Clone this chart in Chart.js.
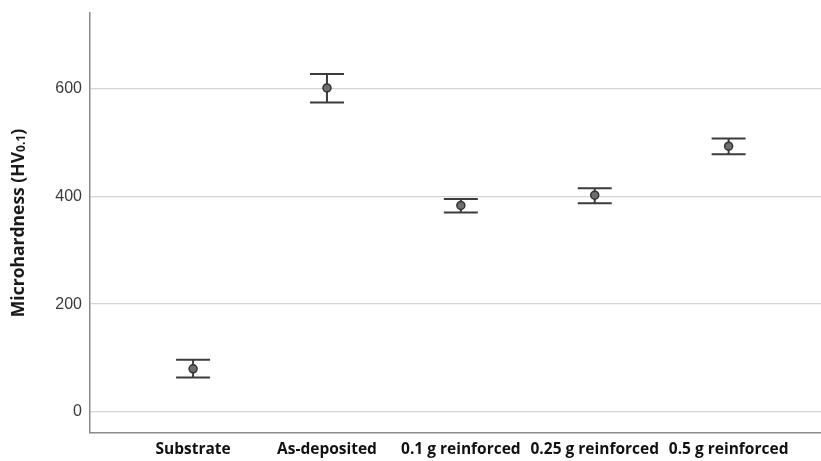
<!DOCTYPE html>
<html>
<head>
<meta charset="utf-8">
<script src="https://cdn.jsdelivr.net/npm/chart.js@4"></script>
<style>
  html, body { margin: 0; padding: 0; background: #fff; overflow: hidden; }
  canvas { display: block; }
</style>
</head>
<body>
<canvas id="c" width="821" height="461"></canvas>
<script>
// Sample groups along the x axis
const categories = ['Substrate', 'As-deposited', '0.1 g reinforced', '0.25 g reinforced', '0.5 g reinforced'];
// Mean microhardness (HV0.1) per group
const meanValues = [80, 601, 383, 402, 493];
// Upper and lower limits of the error bars
const upperValues = [97, 627, 395, 415, 507];
const lowerValues = [64, 574, 370, 387, 478];
// Gridline ticks on the value axis
const yTickValues = [0, 200, 400, 600];

const axisColor = '#8a8a8a';
const barColor = '#3c3c3c';

// Keep the plot area flush with the layout box (no label overhang padding)
function noScalePadding(scale) {
  scale.paddingTop = 0;
  scale.paddingBottom = 0;
  scale.paddingLeft = 0;
  scale.paddingRight = 0;
}

// Whiskers with caps, drawn underneath the mean markers
const errorBars = {
  id: 'errorBars',
  beforeDatasetsDraw(chart) {
    const { ctx, scales: { x, y } } = chart;
    const capHalf = 17;
    ctx.save();
    ctx.strokeStyle = barColor;
    ctx.lineWidth = 2;
    categories.forEach((_, i) => {
      const px = x.getPixelForValue(i);
      const top = y.getPixelForValue(upperValues[i]);
      const bot = y.getPixelForValue(lowerValues[i]);
      ctx.beginPath();
      ctx.moveTo(px, top); ctx.lineTo(px, bot);
      ctx.moveTo(px - capHalf, top); ctx.lineTo(px + capHalf, top);
      ctx.moveTo(px - capHalf, bot); ctx.lineTo(px + capHalf, bot);
      ctx.stroke();
    });
    ctx.restore();
  }
};

// Rotated axis title with a subscript load value
const yTitle = {
  id: 'yTitle',
  afterDraw(chart) {
    const { ctx, chartArea } = chart;
    const main = 'Microhardness (HV';
    const sub = '0.1';
    const close = ')';
    const bigFont = 'bold 17.5px "Open Sans", sans-serif';
    const smallFont = 'bold 12px "Open Sans", sans-serif';
    ctx.save();
    ctx.font = bigFont;
    const w1 = ctx.measureText(main).width;
    const w3 = ctx.measureText(close).width;
    ctx.font = smallFont;
    const w2 = ctx.measureText(sub).width;
    const total = w1 + w2 + w3;
    const cy = (chartArea.top + chartArea.bottom) / 2;
    ctx.translate(19, cy);
    ctx.rotate(-Math.PI / 2);
    ctx.fillStyle = '#1a1a1a';
    ctx.textBaseline = 'middle';
    ctx.textAlign = 'left';
    let xPos = -total / 2;
    ctx.font = bigFont;
    ctx.fillText(main, xPos, 0);
    xPos += w1;
    ctx.font = smallFont;
    ctx.fillText(sub, xPos, 3);
    xPos += w2;
    ctx.font = bigFont;
    ctx.fillText(close, xPos, 0);
    ctx.restore();
  }
};

new Chart(document.getElementById('c'), {
  type: 'scatter',
  data: {
    datasets: [{
      data: meanValues.map((v, i) => ({ x: i, y: v })),
      pointRadius: 4,
      pointHoverRadius: 4,
      pointBackgroundColor: '#6e6e6e',
      pointBorderColor: '#333',
      pointBorderWidth: 1.5,
      showLine: false
    }]
  },
  options: {
    responsive: false,
    animation: false,
    layout: { autoPadding: false, padding: { top: 13, right: 0, left: 0, bottom: 0 } },
    plugins: { legend: { display: false }, tooltip: { enabled: false } },
    scales: {
      x: {
        type: 'linear',
        min: -0.77,
        max: 4.69,
        afterBuildTicks(scale) { scale.ticks = categories.map((_, i) => ({ value: i })); },
        afterFit(scale) { scale.height = 28; noScalePadding(scale); },
        grid: { display: false, drawTicks: false },
        border: { display: true, color: axisColor, width: 1.5 },
        ticks: {
          autoSkip: false,
          maxRotation: 0,
          padding: 7,
          color: '#111',
          font: { family: '"Open Sans", sans-serif', size: 15.5, weight: 'bold' },
          callback: (v) => categories[v]
        }
      },
      y: {
        min: -39,
        max: 740,
        afterBuildTicks(scale) { scale.ticks = yTickValues.map(v => ({ value: v })); },
        afterFit(scale) { scale.width = 90; noScalePadding(scale); },
        grid: { color: '#d3d3d3', lineWidth: 1.3, drawTicks: false },
        border: { display: true, color: axisColor, width: 1.5 },
        ticks: {
          padding: 8,
          color: '#3a3a3a',
          font: { family: '"Liberation Sans", Arial, sans-serif', size: 16 }
        }
      }
    }
  },
  plugins: [errorBars, yTitle]
});
</script>
</body>
</html>
